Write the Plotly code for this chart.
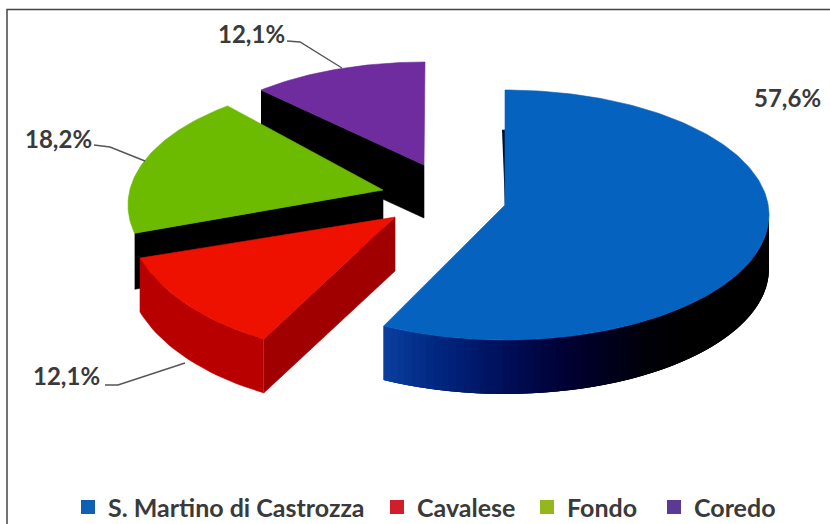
import math
import plotly.graph_objects as go

categories = ["S. Martino di Castrozza", "Cavalese", "Fondo", "Coredo"]
values = [57.6, 12.1, 18.2, 12.1]
labels = ["57,6%", "12,1%", "18,2%", "12,1%"]
legend_colors = ["#0F5FB4", "#D01F2A", "#94B71C", "#5B3A96"]
top_colors = ["#0562BE", "#EE1100", "#6CBB00", "#6E2C9E"]

# Projection of each exploded slice: ellipse centre, radii, apex, angular tweak, wall depth
geometry = {
    "S. Martino di Castrozza": dict(cx=505, cy=215, a=264, b=125, ax=505, ay=205, rot=0, d=54),
    "Cavalese": dict(cx=381, cy=211, a=255, b=144, ax=395, ay=217, rot=0, d=54),
    "Fondo": dict(cx=383, cy=205, a=255, b=125, ax=383, ay=190, rot=6, d=56),
    "Coredo": dict(cx=425, cy=164, a=238, b=102, ax=424, ay=165, rot=0, d=53),
}
wall_colors = {"Cavalese": "#B80000"}
cut_colors = {"Cavalese": "#A00000", "Fondo": "#000000", "Coredo": "#000000"}
blue_wall_stops = [(0.0, (11, 63, 158)), (0.1, (0, 40, 130)), (0.23, (0, 15, 90)), (0.35, (0, 0, 50)),
                   (0.5, (0, 0, 10)), (0.6, (0, 0, 0)), (1.0, (0, 0, 0))]
legend_x_px = [68, 377, 527, 654]

FONT = "Lato"
TEXT = "#3a3a3a"

fig = go.Figure()


def rim(g, deg):
    t = math.radians(deg + g["rot"])
    return g["cx"] + g["a"] * math.sin(t), g["cy"] - g["b"] * math.cos(t)


def poly(xs, ys, color, width=0.6):
    fig.add_trace(go.Scatter(x=xs, y=ys, mode="lines", fill="toself", fillcolor=color,
                             line=dict(color=color, width=width), hoverinfo="skip", showlegend=False))


def grad(t):
    for (t0, c0), (t1, c1) in zip(blue_wall_stops, blue_wall_stops[1:]):
        if t <= t1:
            f = (t - t0) / (t1 - t0)
            return "rgb(%d,%d,%d)" % tuple(round(c0[i] + (c1[i] - c0[i]) * f) for i in range(3))
    return "rgb(0,0,0)"


# angular ranges from the values
total = sum(values)
spans = {}
acc = 0.0
for cat, v in zip(categories, values):
    spans[cat] = (acc, acc + v / total * 360)
    acc += v / total * 360

# back to front drawing order
for cat in ["Coredo", "Fondo", "Cavalese", "S. Martino di Castrozza"]:
    g = geometry[cat]
    s, e = spans[cat]
    i = categories.index(cat)
    # cut face on the leading edge of the left slices
    if i != 0:
        x0, y0 = rim(g, s)
        poly([x0, g["ax"], g["ax"], x0], [y0, g["ay"], g["ay"] + g["d"], y0 + g["d"]], cut_colors[cat])
    # outer wall
    ws, we = max(s, 90), min(e, 270 - g["rot"])
    if i == 0:
        n = 70
        # painted from the right, each band overlapping the next so no seams show
        for k in range(n):
            a0 = ws + (we - ws) * k / n
            a1 = ws + (we - ws) * (k + 1) / n
            a2 = ws + (we - ws) * min(n, k + 3) / n
            pts = [rim(g, a0), rim(g, a1), rim(g, a2)]
            xs = [p[0] for p in pts] + [p[0] for p in reversed(pts)]
            ys = [p[1] for p in pts] + [p[1] + g["d"] for p in reversed(pts)]
            poly(xs, ys, grad(1 - (k + 0.5) / n), width=0)
    elif cat in wall_colors:
        n = 24
        pts = [rim(g, ws + (we - ws) * k / n) for k in range(n + 1)]
        xs = [p[0] for p in pts] + [p[0] for p in reversed(pts)]
        ys = [p[1] for p in pts] + [p[1] + g["d"] for p in reversed(pts)]
        poly(xs, ys, wall_colors[cat])
    # thin visible part of the blue slice's cut
    if i == 0:
        poly([g["ax"] - 3, g["ax"], g["ax"]], [g["ay"] - 75, g["ay"] - 75, g["ay"]], "#001030")
    # top face
    n = max(12, int(e - s))
    pts = [rim(g, s + (e - s) * k / n) for k in range(n + 1)]
    poly([g["ax"]] + [p[0] for p in pts] + [g["ax"]], [g["ay"]] + [p[1] for p in pts] + [g["ay"]], top_colors[i])

# legend entries: one legend box per entry, to reproduce the source's spacing
legend_names = ["legend", "legend2", "legend3", "legend4"]
legend_layout = {}
for cat, col, lname, px in zip(categories, legend_colors, legend_names, legend_x_px):
    fig.add_trace(go.Scatter(x=[None], y=[None], mode="markers", name=cat, legend=lname,
                             marker=dict(symbol="square", size=14, color=col)))
    legend_layout[lname] = dict(orientation="h", x=px / 830, xanchor="left", y=0.032, yanchor="middle",
                                font=dict(family=FONT, size=25, color=TEXT, weight=700),
                                bgcolor="rgba(0,0,0,0)", itemwidth=30)

# data labels
label_pos = [(787, 97), (66, 375), (58, 138), (251, 33)]
for txt, (x, y) in zip(labels, label_pos):
    fig.add_annotation(x=x, y=y, text=txt, showarrow=False, xref="x", yref="y",
                       font=dict(family=FONT, size=24, color=TEXT, weight=700))

# leader lines
leaders = [
    ([287, 300, 342], [41, 42, 68]),
    ([94, 110, 145], [145, 147, 161]),
    ([105, 118, 185], [385, 385, 363]),
]
shapes = []
for xs, ys in leaders:
    path = "M %d %d L %d %d L %d %d" % (xs[0], ys[0], xs[1], ys[1], xs[2], ys[2])
    shapes.append(dict(type="path", path=path, xref="x", yref="y", line=dict(color="#555555", width=1.4)))
# frame, open at the right and bottom (cropped in the source)
shapes.append(dict(type="path", path="M 7 530 L 7 9.5 L 835 9.5", xref="x", yref="y",
                   line=dict(color="#444444", width=1.5)))

fig.update_layout(
    width=830, height=524, margin=dict(l=0, r=0, t=0, b=0, autoexpand=False),
    paper_bgcolor="white", plot_bgcolor="white", shapes=shapes,
    xaxis=dict(range=[0, 830], visible=False, fixedrange=True),
    yaxis=dict(range=[524, 0], visible=False, fixedrange=True),
    showlegend=True,
    **legend_layout,
)
fig.write_html("out.html", config={"displayModeBar": False},
               post_script="document.body.style.margin='0';document.documentElement.style.overflow='hidden';")
